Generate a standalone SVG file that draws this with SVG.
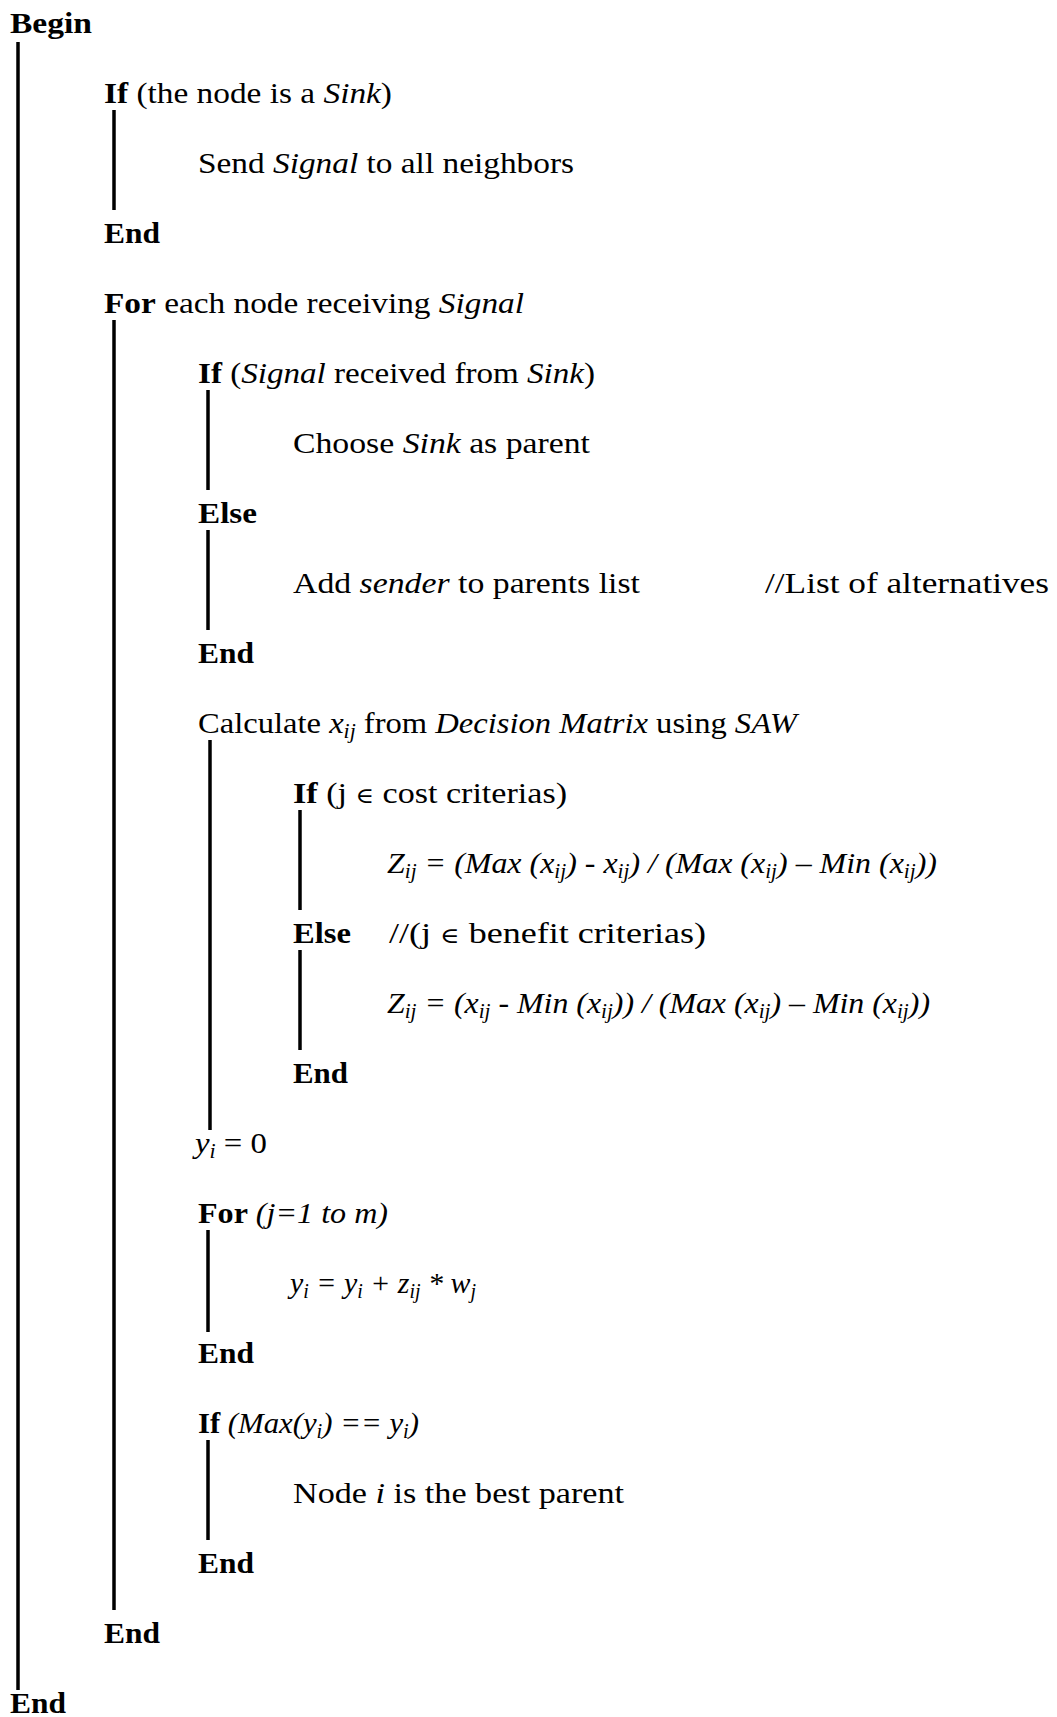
<svg xmlns="http://www.w3.org/2000/svg" width="1057" height="1717" viewBox="0 0 1057 1717">
  <style>
    text { font-family: "Liberation Serif", "DejaVu Serif", serif; font-size: 30px; fill: #000; }
    .b { font-weight: bold; }
    .i { font-style: italic; }
    .sub { font-size: 20px; }
    .el { font-size: 22px; }
    .bar { stroke: #000; stroke-width: 3.5; fill: none; }
  </style>
  <rect width="1057" height="1717" fill="#fff"/>

  <!-- block bars -->
  <g id="connectors">
    <line class="bar" x1="18" y1="42" x2="18" y2="1690"/>
    <line class="bar" x1="114" y1="110" x2="114" y2="210"/>
    <line class="bar" x1="114" y1="320" x2="114" y2="1610"/>
    <line class="bar" x1="208" y1="390" x2="208" y2="490"/>
    <line class="bar" x1="208" y1="530" x2="208" y2="630"/>
    <line class="bar" x1="210" y1="740" x2="210" y2="1130"/>
    <line class="bar" x1="300" y1="810" x2="300" y2="910"/>
    <line class="bar" x1="300" y1="950" x2="300" y2="1050"/>
    <line class="bar" x1="208" y1="1230" x2="208" y2="1332"/>
    <line class="bar" x1="208" y1="1440" x2="208" y2="1540"/>
  </g>

  <g id="begin"><text class="b" x="10" y="33" textLength="82" lengthAdjust="spacingAndGlyphs">Begin</text></g>
  <g id="if-sink"><text x="104" y="103" textLength="288" lengthAdjust="spacingAndGlyphs"><tspan class="b">If</tspan> (the node is a <tspan class="i">Sink</tspan>)</text></g>
  <g id="send-signal"><text x="198" y="173" textLength="376" lengthAdjust="spacingAndGlyphs">Send <tspan class="i">Signal</tspan> to all neighbors</text></g>
  <g id="end-if-sink"><text class="b" x="104" y="243" textLength="56" lengthAdjust="spacingAndGlyphs">End</text></g>

  <g id="for-each"><text x="104" y="313" textLength="420" lengthAdjust="spacingAndGlyphs"><tspan class="b">For</tspan> each node receiving <tspan class="i">Signal</tspan></text></g>
  <g id="if-from-sink"><text x="198" y="383" textLength="397" lengthAdjust="spacingAndGlyphs"><tspan class="b">If</tspan> (<tspan class="i">Signal</tspan> received from <tspan class="i">Sink</tspan>)</text></g>
  <g id="choose-sink"><text x="293" y="453" textLength="297" lengthAdjust="spacingAndGlyphs">Choose <tspan class="i">Sink</tspan> as parent</text></g>
  <g id="else-sink"><text class="b" x="198" y="523" textLength="59" lengthAdjust="spacingAndGlyphs">Else</text></g>
  <g id="add-sender">
    <text x="293" y="593" textLength="347" lengthAdjust="spacingAndGlyphs">Add <tspan class="i">sender</tspan> to parents list</text>
    <text x="765" y="593" textLength="284" lengthAdjust="spacingAndGlyphs">//List of alternatives</text>
  </g>
  <g id="end-if-from-sink"><text class="b" x="198" y="663" textLength="56" lengthAdjust="spacingAndGlyphs">End</text></g>

  <g id="calculate"><text x="198" y="733" textLength="599" lengthAdjust="spacingAndGlyphs">Calculate <tspan class="i">x</tspan><tspan class="i sub" dy="5">ij</tspan><tspan dy="-5"> from </tspan><tspan class="i">Decision Matrix</tspan> using <tspan class="i">SAW</tspan></text></g>
  <g id="if-cost"><text x="293" y="803" textLength="274" lengthAdjust="spacingAndGlyphs"><tspan class="b">If</tspan> (j <tspan class="el">∈</tspan> cost criterias)</text></g>
  <g id="z-cost"><text class="i" x="387" y="873" textLength="550" lengthAdjust="spacingAndGlyphs">Z<tspan class="sub" dy="5">ij</tspan><tspan dy="-5"> = (Max (x</tspan><tspan class="sub" dy="5">ij</tspan><tspan dy="-5">) - x</tspan><tspan class="sub" dy="5">ij</tspan><tspan dy="-5">) / (Max (x</tspan><tspan class="sub" dy="5">ij</tspan><tspan dy="-5">) – Min (x</tspan><tspan class="sub" dy="5">ij</tspan><tspan dy="-5">))</tspan></text></g>
  <g id="else-benefit">
    <text class="b" x="293" y="943" textLength="58" lengthAdjust="spacingAndGlyphs">Else</text>
    <text x="389" y="943" textLength="317" lengthAdjust="spacingAndGlyphs">//(j <tspan class="el">∈</tspan> benefit criterias)</text>
  </g>
  <g id="z-benefit"><text class="i" x="387" y="1013" textLength="543" lengthAdjust="spacingAndGlyphs">Z<tspan class="sub" dy="5">ij</tspan><tspan dy="-5"> = (x</tspan><tspan class="sub" dy="5">ij</tspan><tspan dy="-5"> - Min (x</tspan><tspan class="sub" dy="5">ij</tspan><tspan dy="-5">)) / (Max (x</tspan><tspan class="sub" dy="5">ij</tspan><tspan dy="-5">) – Min (x</tspan><tspan class="sub" dy="5">ij</tspan><tspan dy="-5">))</tspan></text></g>
  <g id="end-if-cost"><text class="b" x="293" y="1083" textLength="55" lengthAdjust="spacingAndGlyphs">End</text></g>

  <g id="y-init"><text x="195" y="1153" textLength="72" lengthAdjust="spacingAndGlyphs"><tspan class="i">y</tspan><tspan class="i sub" dy="5">i</tspan><tspan dy="-5"> = 0</tspan></text></g>
  <g id="for-j"><text x="198" y="1223" textLength="190" lengthAdjust="spacingAndGlyphs"><tspan class="b">For</tspan> <tspan class="i">(j=1 to m)</tspan></text></g>
  <g id="y-sum"><text class="i" x="290" y="1293" textLength="186" lengthAdjust="spacingAndGlyphs">y<tspan class="sub" dy="5">i</tspan><tspan dy="-5"> = y</tspan><tspan class="sub" dy="5">i</tspan><tspan dy="-5"> + z</tspan><tspan class="sub" dy="5">ij</tspan><tspan dy="-5"> * w</tspan><tspan class="sub" dy="5">j</tspan></text></g>
  <g id="end-for-j"><text class="b" x="198" y="1363" textLength="56" lengthAdjust="spacingAndGlyphs">End</text></g>

  <g id="if-max"><text x="198" y="1433" textLength="221" lengthAdjust="spacingAndGlyphs"><tspan class="b">If</tspan> <tspan class="i">(Max(y</tspan><tspan class="i sub" dy="5">i</tspan><tspan class="i" dy="-5">) == y</tspan><tspan class="i sub" dy="5">i</tspan><tspan class="i" dy="-5">)</tspan></text></g>
  <g id="best-parent"><text x="293" y="1503" textLength="331" lengthAdjust="spacingAndGlyphs">Node <tspan class="i">i</tspan> is the best parent</text></g>
  <g id="end-if-max"><text class="b" x="198" y="1573" textLength="56" lengthAdjust="spacingAndGlyphs">End</text></g>

  <g id="end-for-each"><text class="b" x="104" y="1643" textLength="56" lengthAdjust="spacingAndGlyphs">End</text></g>
  <g id="end"><text class="b" x="10" y="1713" textLength="56" lengthAdjust="spacingAndGlyphs">End</text></g>
</svg>
